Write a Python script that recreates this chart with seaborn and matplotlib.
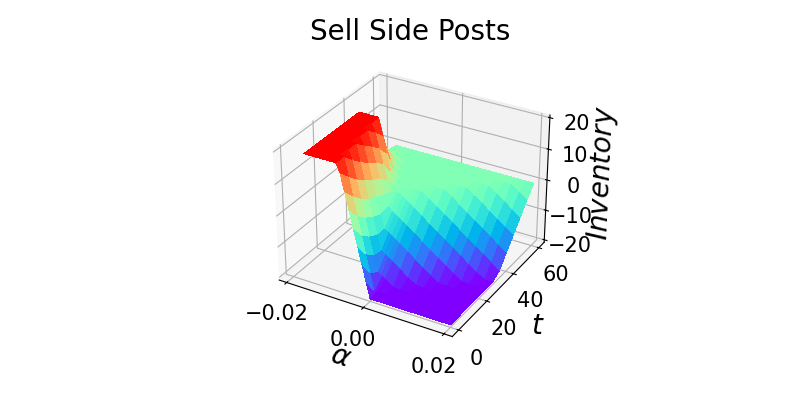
import numpy as np
import matplotlib
matplotlib.use('Agg')
import matplotlib.pyplot as plt
import seaborn as sns

# alpha grid, time grid and inventory
alphas = [-0.016, -0.014, -0.013, -0.012, -0.011, -0.010, -0.009, -0.008, -0.007, -0.006,
          -0.005, -0.004, -0.003, -0.002, -0.001, 0.000, 0.002, 0.004, 0.006, 0.008,
          0.010, 0.012, 0.014, 0.016, 0.018, 0.020]
times = [0, 5, 10, 15, 20, 25, 30, 35, 40, 45, 50, 55, 60]

inv_t0 = [20, 20, 20, 20, 20, 20, 20, 20, 17.3, 12, 6.7, 1.3, -4, -9.3, -14.7, -20,
          -20, -20, -20, -20, -20, -20, -20, -20, -20, -20]
inv_t5 = [20, 20, 20, 20, 20, 20, 20, 20, 14.3, 8.5, 2.8, -3, -8.7, -14.5, -20, -20,
          -20, -20, -20, -20, -20, -20, -20, -20, -20, -20]
inv_t10 = [20, 20, 20, 20, 20, 20, 20, 17.2, 11.5, 5.8, 0.1, -5.6, -11.3, -16.4, -17.4, -18.3,
           -20, -20, -20, -20, -20, -20, -20, -20, -20, -20]
inv_t15 = [20, 20, 20, 20, 20, 20, 20, 14.6, 9.2, 3.7, -1.7, -7.1, -11.9, -12.7, -13.7, -14.6,
           -16.5, -18.4, -20, -20, -20, -20, -20, -20, -20, -20]
inv_t20 = [20, 20, 20, 20, 20, 20, 17.5, 12.4, 7.3, 2.2, -2.9, -7.2, -8.1, -9, -10, -10.9,
           -12.8, -14.7, -16.5, -18.4, -20, -20, -20, -20, -20, -20]
inv_t25 = [20, 20, 20, 20, 20, 20, 15.3, 10.6, 5.9, 1.2, -2.5, -3.5, -4.4, -5.3, -6.3, -7.2,
           -9.1, -11, -12.8, -14.7, -16.6, -18.4, -20, -20, -20, -20]
inv_t30 = [20, 20, 20, 20, 20, 17.6, 12.9, 8.2, 3.5, 0, 0, 0, -0.7, -1.6, -2.6, -3.5,
           -5.4, -7.3, -9.1, -11, -12.9, -14.7, -16.6, -18.4, -20, -20]
inv_t35 = [20, 20, 20, 20, 20, 14.7, 9.3, 4, 0, 0, 0, 0, 0, 0, 0, 0,
           -1.7, -3.6, -5.4, -7.3, -9.2, -11, -12.9, -14.7, -16.7, -18.5]
inv_t40 = [10, 10, 10, 10, 8.4, 5.2, 1.9, 0, 0, 0, 0, 0, 0, 0, 0, 0,
           0, 0, -1.7, -3.6, -5.5, -7.3, -9.2, -11, -13, -14.8]
inv_t45 = [5, 5, 5, 5, 3, 1.1, 0, 0, 0, 0, 0, 0, 0, 0, 0, 0,
           0, 0, 0, 0, -1.8, -3.6, -5.5, -7.3, -9.3, -11.1]
inv_t50 = [2, 2, 2, 1.5, 0.5, 0, 0, 0, 0, 0, 0, 0, 0, 0, 0, 0,
           0, 0, 0, 0, 0, 0, -1.8, -3.6, -5.6, -7.4]
inv_t55 = [0.5, 0.5, 0.5, 0, 0, 0, 0, 0, 0, 0, 0, 0, 0, 0, 0, 0,
           0, 0, 0, 0, 0, 0, 0, 0, -1.9, -3.7]
inv_t60 = [0, 0, 0, 0, 0, 0, 0, 0, 0, 0, 0, 0, 0, 0, 0, 0,
           0, 0, 0, 0, 0, 0, 0, 0, 0, 0]

inventory = np.array([inv_t0, inv_t5, inv_t10, inv_t15, inv_t20, inv_t25, inv_t30,
                      inv_t35, inv_t40, inv_t45, inv_t50, inv_t55, inv_t60], dtype=float)
A, T = np.meshgrid(alphas, times)

cmap = sns.color_palette('rainbow', as_cmap=True)

fig = plt.figure(figsize=(8, 4), dpi=100)
ax = fig.add_subplot(111, projection='3d')
ax.plot_surface(A, T, inventory, cmap=cmap, vmin=-20, vmax=20,
                linewidth=0, antialiased=False)

ax.set_xlim(-0.022, 0.022)
ax.set_xticks([-0.02, 0.0, 0.02])
ax.set_yticks([0, 20, 40, 60])
ax.set_zticks([-20, -10, 0, 10, 20])
ax.tick_params(labelsize=15)
ax.set_xlabel(r'$\alpha$', fontsize=20)
ax.set_ylabel(r'$t$', fontsize=20)
ax.set_zlabel(r'$Inventory$', fontsize=20)
ax.set_title('Sell Side Posts', fontsize=20)

fig.savefig('out.png', dpi=100)
